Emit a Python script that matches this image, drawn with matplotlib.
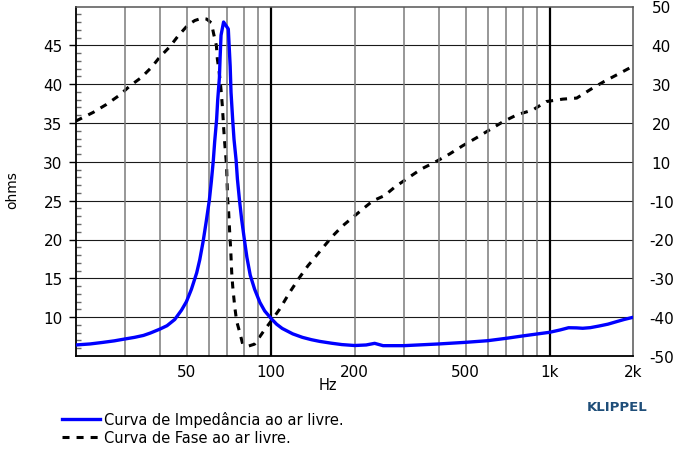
import numpy as np
import matplotlib
matplotlib.use("Agg")
import matplotlib.pyplot as plt
from matplotlib.ticker import FixedLocator, NullFormatter

plt.rcParams['font.family'] = ['DejaVu Sans']

# ---------------- data ----------------
imp_freq = [20, 22.5, 25, 27.5, 30, 32.5, 35, 37, 40, 42.5, 45.3, 47.9, 49.9, 52.0, 54.3,
            55.7, 57.3, 58.8, 60.3, 61.3, 62.3, 63.0, 64.0, 64.6, 65.5, 65.9, 66.4,
            67.8, 70.5, 71.6, 72.1, 73.1, 73.9, 75.2, 76.0, 77.3, 78.7, 80.5, 82.2, 84.5,
            87.6, 91.5, 95.2, 100, 105, 110, 120, 130, 140, 150, 165, 180, 200, 220,
            236, 253, 300, 400, 500, 600, 700, 800, 900, 1000, 1090, 1170, 1250, 1315,
            1400, 1500, 1620, 1730, 1850, 2000]
imp_ohm = [6.42, 6.55, 6.75, 6.95, 7.19, 7.4, 7.65, 7.95, 8.45, 8.9, 9.7, 10.9, 12.0, 13.6, 15.7,
           17.4, 19.8, 22.4, 25.1, 27.5, 30.2, 32.6, 35.4, 38.0, 40.8, 43.5, 46.3,
           48.0, 47.1, 42.3, 38.95, 35.4, 32.9, 30.2, 27.8, 25.1, 22.6, 20.0, 17.7, 15.4,
           13.6, 11.9, 10.8, 9.9, 9.1, 8.55, 7.85, 7.4, 7.1, 6.88, 6.65, 6.47, 6.35, 6.42,
           6.63, 6.33, 6.33, 6.55, 6.76, 6.97, 7.28, 7.58, 7.83, 8.05, 8.35, 8.64, 8.62, 8.57,
           8.65, 8.85, 9.1, 9.4, 9.7, 10.0]

phase_freq = [20, 23.1, 25.8, 28.8, 31.2, 34.4, 37.4, 40, 43.5, 46.5, 50.5, 53.5, 56.4, 59,
              61.3, 62.5, 63.9, 64.4, 65.3, 66.0, 66.6, 67.1, 67.5, 67.9, 68.4, 69.5, 70.1,
              70.7, 71.3, 71.9, 72.5, 73.1, 74.3, 75.5, 77.4, 79.4, 83, 87.6, 93.8, 100.6,
              107.7, 117, 127, 136, 145.8, 156.2, 167.2, 181.6, 200, 217.3, 232.6, 256.2,
              278.3, 306.4, 346.8, 387, 438.1, 489, 546.2, 609.4, 680, 763.5, 871.3, 973.1,
              1116, 1252, 1411, 1574, 1767, 2000]
phase_val = [17.2, 19.7, 22.0, 24.7, 27.2, 29.7, 32.6, 35.5, 38.5, 41.5, 44.7, 46.0, 46.6, 46.4,
             45.3, 42.1, 38.8, 35.0, 31.6, 28.3, 25.0, 21.6, 18.3, 14.9, 11.2, 4.4, -5.1,
             -8.8, -14.5, -19.4, -26.0, -30.0, -35.7, -40.0, -43.1, -46.6, -47.2, -46.6, -43.2, -39.9,
             -36.6, -31.8, -27.5, -24.2, -21.3, -18.4, -15.6, -12.7, -9.9, -7.5, -5.6, -4.1,
             -1.7, 0.6, 3.5, 5.4, 7.8, 10.2, 12.4, 14.7, 17.0, 19.0, 20.4, 22.8,
             23.5, 23.8, 26.4, 28.6, 30.7, 33.0]

x_tick_vals = [50, 100, 200, 500, 1000, 2000]
x_tick_labels = ['50', '100', '200', '500', '1k', '2k']
y_tick_vals = [10, 15, 20, 25, 30, 35, 40, 45]
right_grid_vals = [50, 45, 40, 35, 30, 25, 20, 15, 10, 5]
right_labels = ['50', '40', '30', '20', '10', '-10', '-20', '-30', '-40', '-50']
minor_x_grid = [30, 40, 50, 60, 70, 80, 90, 200, 300, 400, 500, 600, 700, 800, 900]
major_x_grid = [100, 1000]

legend_labels = ['Curva de Impedância ao ar livre.', 'Curva de Fase ao ar livre.']

# ---------------- figure ----------------
W, H = 676, 452
fig = plt.figure(figsize=(W / 100, H / 100), dpi=100)
L, R, B, T = 75.7, 633.5, 357.0, 7.5
ax = fig.add_axes([L / W, 1 - B / H, (R - L) / W, (B - T) / H])

ax.set_xscale('log')
ax.set_xlim(20, 2000)
ax.set_ylim(5, 50)

# vertical grid
for f in minor_x_grid:
    ax.axvline(f, color='#7a7a7a', lw=1.1, zorder=1)
for f in major_x_grid:
    ax.axvline(f, color='black', lw=1.6, zorder=1.2)

# x ticks
ax.xaxis.set_major_locator(FixedLocator(x_tick_vals))
ax.set_xticklabels(x_tick_labels)
ax.xaxis.set_minor_locator(FixedLocator([]))
ax.xaxis.set_minor_formatter(NullFormatter())
ax.tick_params(axis='x', which='both', length=0, pad=6, labelsize=11)

# y ticks
ax.set_yticks(y_tick_vals)
ax.yaxis.set_minor_locator(FixedLocator([v for v in range(6, 50) if v % 5 != 0]))
ax.tick_params(axis='y', which='major', direction='out', length=4.7, width=1.0,
               pad=4.7, labelsize=11, color='black')
ax.tick_params(axis='y', which='minor', direction='in', length=3.6, width=1.0,
               color='#6a6a6a')
ax.grid(axis='y', which='major', color='#1a1a1a', lw=0.8, zorder=1.1)
ax.set_axisbelow(True)

for s in ['left', 'bottom']:
    ax.spines[s].set_linewidth(1.3)
    ax.spines[s].set_color('black')
for s in ['top', 'right']:
    ax.spines[s].set_linewidth(1.1)
    ax.spines[s].set_color('#555555')

imp_line, = ax.plot(imp_freq, imp_ohm, color='#0000ff', lw=2.4, zorder=4,
                    solid_joinstyle='round')

# phase on twin axis
ax2 = ax.twinx()
ax2.set_ylim(-50, 50)
ph_line, = ax2.plot(phase_freq, phase_val, color='black', lw=2.2,
                    linestyle=(0, (2.3, 2.3)), dash_capstyle='butt', zorder=3)
ax2.set_yticks(np.interp(right_grid_vals, ax.get_ylim(), ax2.get_ylim()))
ax2.set_yticklabels(right_labels)
ax2.tick_params(axis='y', length=0, pad=20, labelsize=11)
for lab in ax2.get_yticklabels():
    lab.set_horizontalalignment('center')
for s in ax2.spines.values():
    s.set_visible(False)
ax.set_zorder(ax2.get_zorder() + 1)
ax.patch.set_visible(False)

# axis labels
ax.set_ylabel('ohms', fontsize=10)
ax.yaxis.set_label_coords((12 - L) / (R - L), (B - 190) / (B - T))
ax.yaxis.label.set_va('center')
ax.set_xlabel('Hz', fontsize=10.5)
ax.xaxis.set_label_coords((328 - L) / (R - L), (B - 386) / (B - T))
ax.xaxis.label.set_va('center')

# legend
ax.legend([imp_line, ph_line], legend_labels, loc='upper left',
          bbox_to_anchor=(62 / W, 1 - 412 / H), bbox_transform=fig.transFigure,
          frameon=False, borderpad=0, borderaxespad=0, handlelength=2.6,
          handletextpad=0.3, labelspacing=0.22, fontsize=10.5)

fig.text(617 / W, 1 - 407.7 / H, 'KLIPPEL', ha='center', va='center',
         fontsize=9.5, fontweight='bold', color='#1f4e79')

fig.savefig('out.png', dpi=100, facecolor='white')
